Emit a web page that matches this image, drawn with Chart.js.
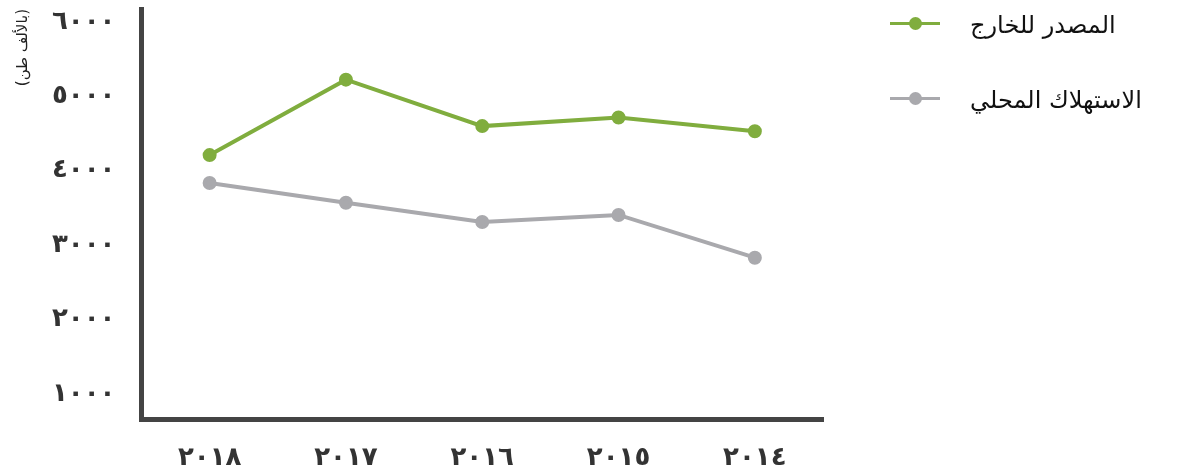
<!DOCTYPE html>
<html lang="ar">
<head>
<meta charset="utf-8">
<script src="https://cdn.jsdelivr.net/npm/chart.js@4.4.1/dist/chart.umd.min.js"></script>
<style>
    html, body { margin: 0; padding: 0; background: #fff; }
    .wrap { position: relative; width: 1183px; height: 474px; }
    .legend { position: absolute; left: 890px; top: 0; font-family: "DejaVu Sans", sans-serif; }
    .legend-item { position: absolute; left: 0; white-space: nowrap; height: 40px; }
    .legend-mark { position: absolute; left: 0; top: 18px; width: 50px; height: 3px; }
    .legend-mark span { position: absolute; left: 19px; top: -5px; width: 13px; height: 13px; border-radius: 50%; }
    .legend-text { position: absolute; left: 80px; top: 7px; font-size: 24px; color: #111; direction: rtl; }
</style>
</head>
<body>
<div class="wrap">
    <canvas id="chart" width="1183" height="474"></canvas>
    <div class="legend" id="legend"></div>
</div>
<script>
// Data
const years = ['٢٠١٨', '٢٠١٧', '٢٠١٦', '٢٠١٥', '٢٠١٤'];
const exported = [4210, 5225, 4600, 4715, 4530];
const localUse = [3835, 3570, 3310, 3405, 2830];
const yTicks = [1000, 2000, 3000, 4000, 5000, 6000];
const seriesNames = ['المصدر للخارج', 'الاستهلاك المحلي'];
const yTitle = '(بالألف طن)';

const green = '#80ad3e';
const grey = '#a9a9ad';

const toArabicDigits = (n) => String(n).replace(/\d/g, d => '٠١٢٣٤٥٦٧٨٩'[d]);

const ctx = document.getElementById('chart').getContext('2d');
const chart = new Chart(ctx, {
    type: 'line',
    data: {
        labels: years,
        datasets: [{
            label: seriesNames[0],
            data: exported,
            borderColor: green,
            backgroundColor: green,
            borderWidth: 4,
            pointRadius: 5,
            pointHoverRadius: 5
        }, {
            label: seriesNames[1],
            data: localUse,
            borderColor: grey,
            backgroundColor: grey,
            borderWidth: 4,
            pointRadius: 5,
            pointHoverRadius: 5
        }]
    },
    options: {
        responsive: false,
        animation: false,
        layout: { padding: { left: 14, right: 360, top: 5, bottom: -23 } },
        plugins: {
            legend: { display: false },
            tooltip: { enabled: false }
        },
        scales: {
            x: {
                offset: true,
                grid: { display: false, drawTicks: false },
                border: { color: '#444', width: 5 },
                ticks: {
                    color: '#333',
                    padding: 23,
                    font: { family: 'DejaVu Sans', size: 26, weight: 'bold' }
                }
            },
            y: {
                min: 650,
                max: 6175,
                grid: { display: false, drawTicks: false },
                border: { color: '#444', width: 5 },
                afterBuildTicks: (scale) => {
                    scale.ticks = yTicks.map(v => ({ value: v }));
                },
                afterFit: (scale) => {
                    // no extra room for half-labels above/below the axis
                    scale.paddingTop = 0;
                    scale.paddingBottom = 0;
                },
                ticks: {
                    color: '#333',
                    padding: 26,
                    callback: (value) => toArabicDigits(value),
                    font: { family: 'DejaVu Sans', size: 26, weight: 'bold' }
                },
                title: {
                    display: true,
                    text: yTitle,
                    align: 'end',
                    color: '#222',
                    padding: { top: 0, bottom: -6 },
                    font: { family: 'DejaVu Sans', size: 15 }
                }
            }
        }
    }
});

// HTML legend
const legend = document.getElementById('legend');
chart.data.datasets.forEach((ds, i) => {
    const item = document.createElement('div');
    item.className = 'legend-item';
    item.style.top = (4 + i * 75) + 'px';
    item.innerHTML = '<div class="legend-mark" style="background:' + ds.borderColor + '">' +
        '<span style="background:' + ds.borderColor + '"></span></div>' +
        '<div class="legend-text">' + ds.label + '</div>';
    legend.appendChild(item);
});
</script>
</body>
</html>
